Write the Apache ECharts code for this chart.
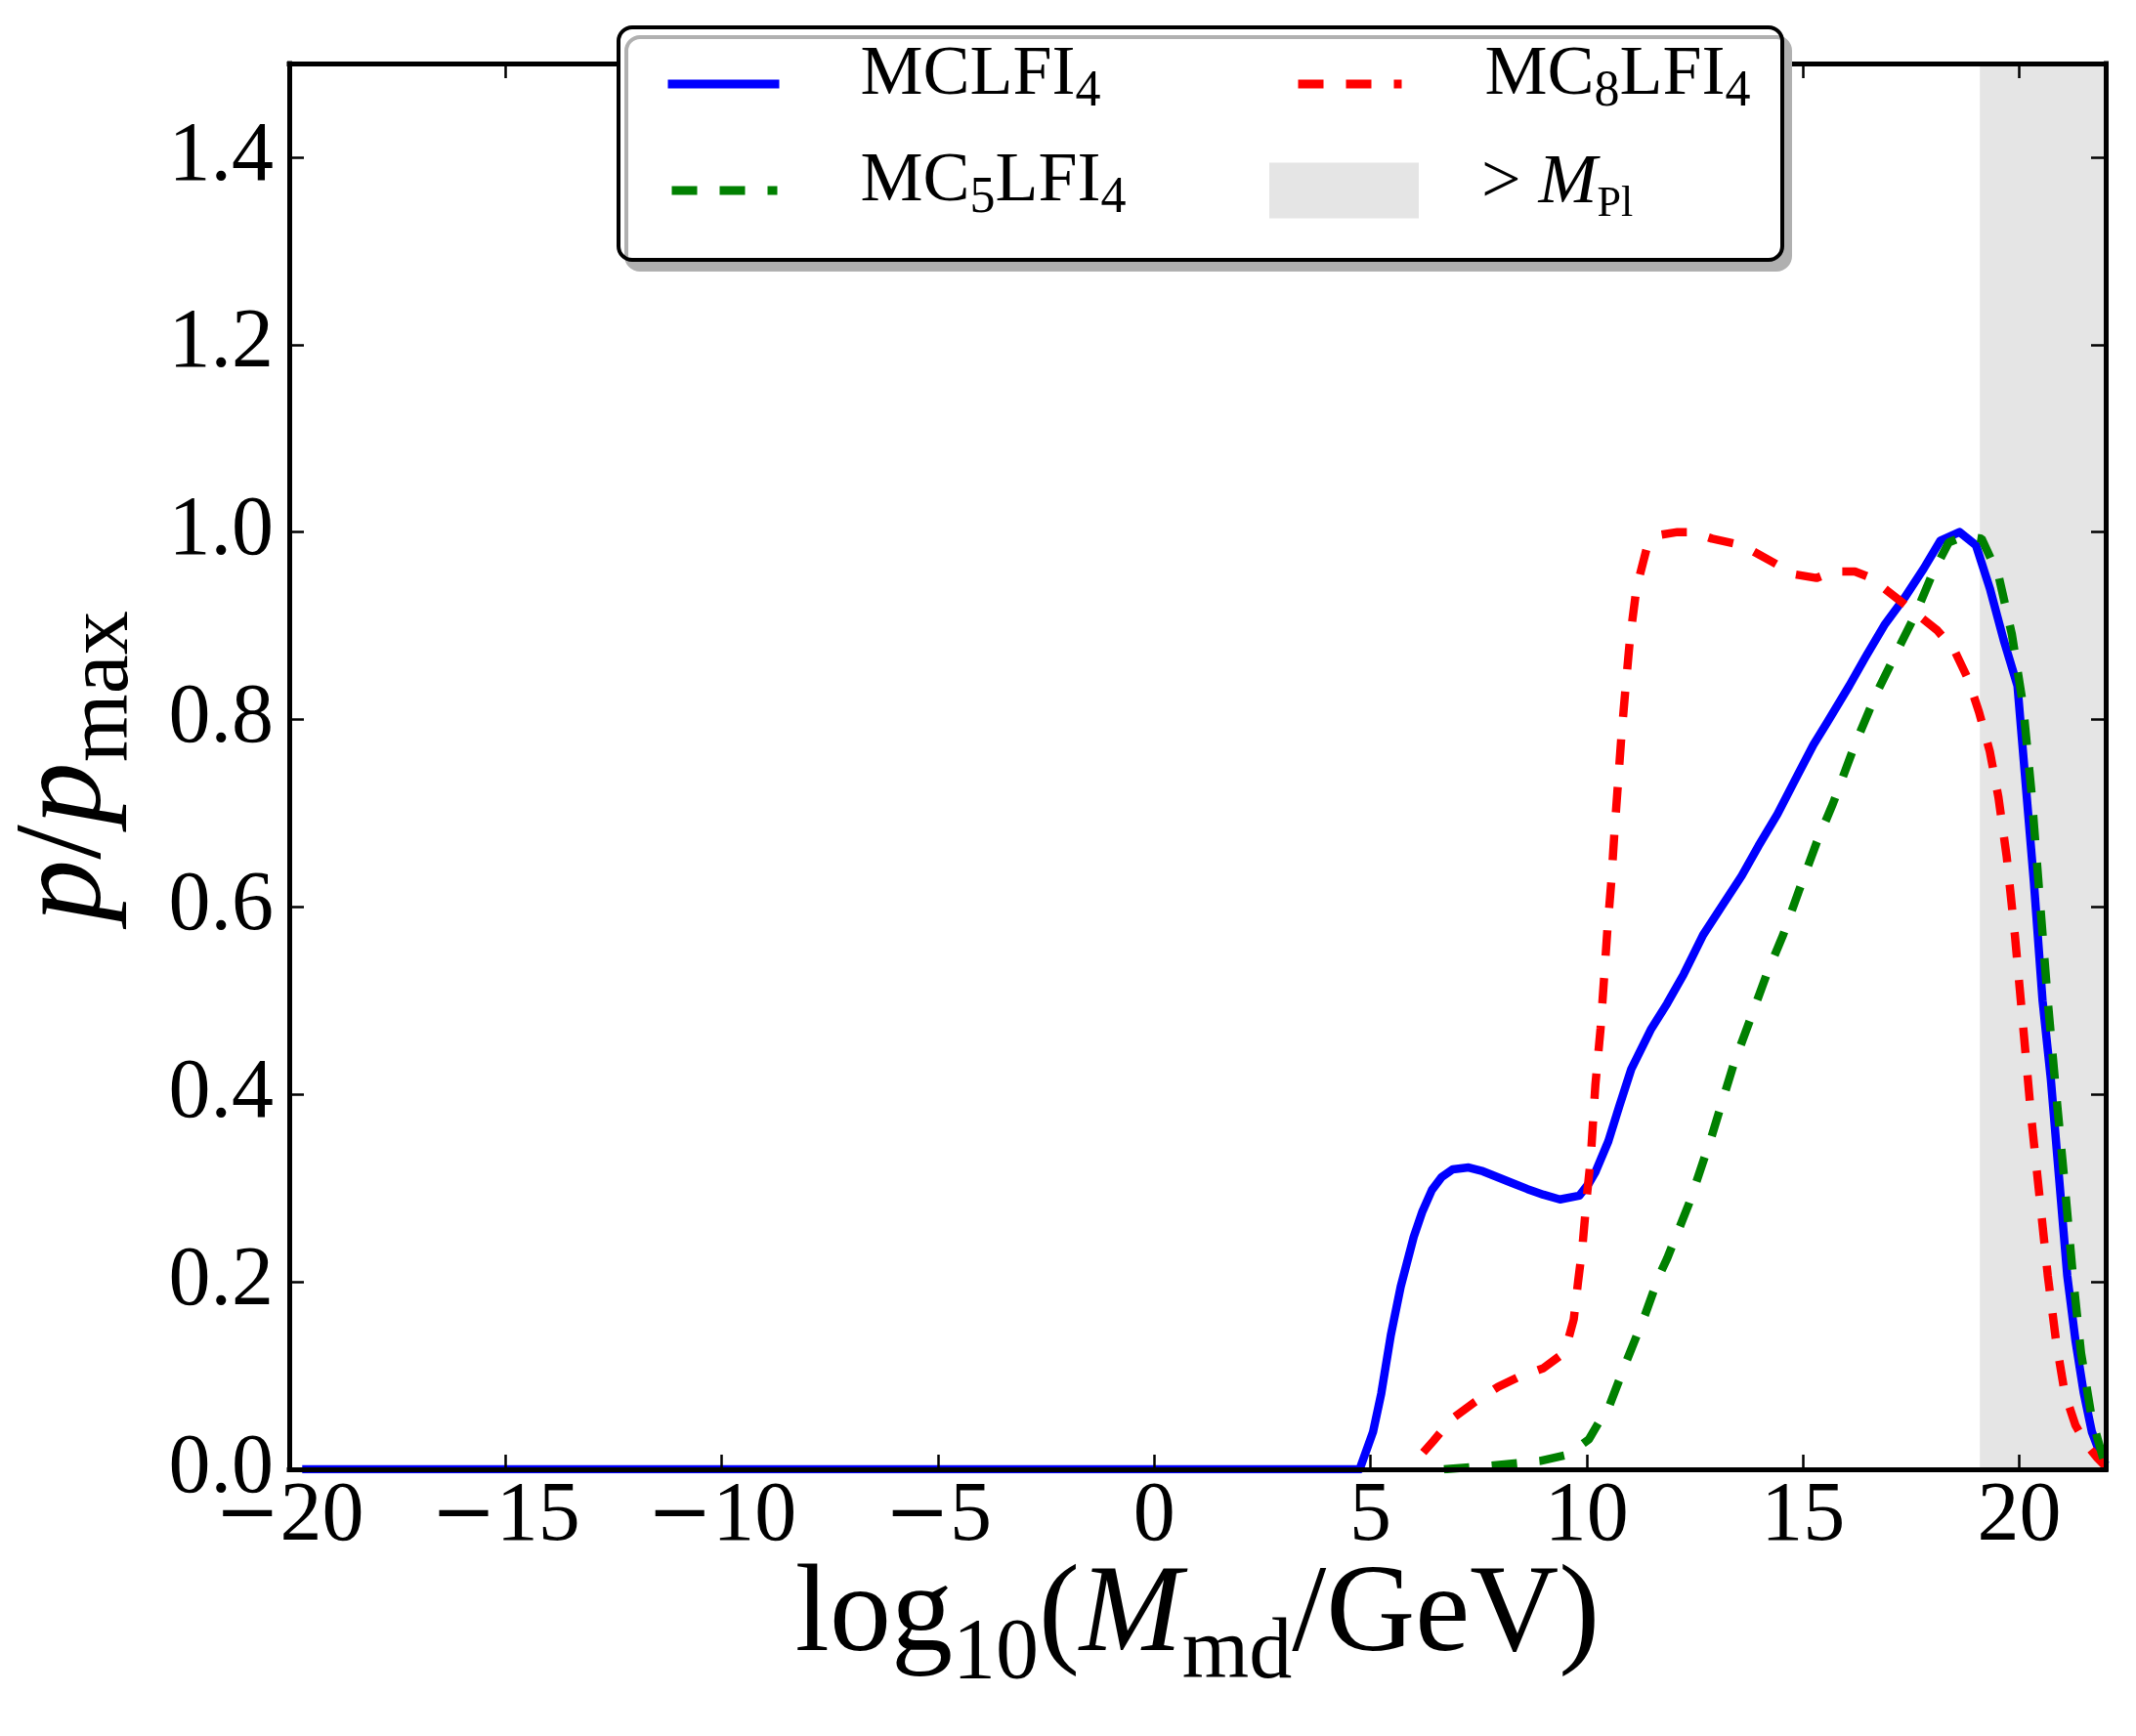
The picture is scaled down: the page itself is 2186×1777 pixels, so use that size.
<!DOCTYPE html>
<html>
<head>
<meta charset="utf-8">
<script src="https://cdn.jsdelivr.net/npm/echarts@6/dist/echarts.min.js"></script>
<style>
html,body{margin:0;padding:0;background:#fff;}
#chart{width:2186px;height:1777px;}
</style>
</head>
<body>
<div id="chart"></div>
<script>
// ---- data (x = log10(M_md/GeV), y = p/p_max) ----
const seriesNames = ['MCLFI4', 'MC8LFI4', 'MC5LFI4', '>MPl'];
const mclfi4 = [[-19.7,0],[4.75,0],[5.06,0.04],[5.25,0.081],[5.47,0.143],[5.7,0.195],[6.0,0.248],[6.2,0.275],[6.42,0.298],[6.65,0.312],[6.9,0.32],[7.27,0.322],[7.6,0.318],[7.87,0.313],[8.25,0.306],[8.63,0.299],[9.0,0.293],[9.38,0.288],[9.83,0.292],[10.05,0.305],[10.2,0.317],[10.5,0.35],[10.75,0.387],[11.03,0.427],[11.48,0.469],[11.86,0.497],[12.24,0.528],[12.69,0.57],[13.14,0.602],[13.58,0.633],[13.97,0.665],[14.41,0.699],[14.8,0.734],[15.24,0.773],[15.56,0.797],[16.07,0.836],[16.45,0.867],[16.9,0.902],[17.35,0.93],[17.79,0.961],[18.18,0.991],[18.62,1.0],[19.0,0.986],[19.32,0.94],[19.64,0.885],[19.96,0.836],[20.15,0.731],[20.34,0.626],[20.54,0.5],[20.73,0.417],[20.92,0.312],[21.11,0.207],[21.3,0.1375],[21.49,0.082],[21.68,0.04],[21.91,0.012],[22.0,0.005]];
const mc8lfi4 = [[6.22,0.018],[6.45,0.03],[6.89,0.054],[7.42,0.072],[7.95,0.088],[8.4,0.098],[9.0,0.108],[9.38,0.121],[9.57,0.138],[9.7,0.16],[9.8,0.2],[9.9,0.237],[10.0,0.29],[10.09,0.33],[10.2,0.41],[10.32,0.47],[10.4,0.523],[10.48,0.577],[10.57,0.628],[10.64,0.679],[10.72,0.73],[10.8,0.781],[10.9,0.835],[11.0,0.886],[11.15,0.94],[11.4,0.985],[11.7,0.997],[12.1,1.0],[12.45,1.0],[12.9,0.993],[13.4,0.988],[13.75,0.982],[14.3,0.968],[14.8,0.955],[15.31,0.951],[15.7,0.958],[16.2,0.958],[16.58,0.951],[16.96,0.937],[17.35,0.923],[17.73,0.909],[18.11,0.895],[18.5,0.874],[18.82,0.843],[19.07,0.808],[19.32,0.766],[19.52,0.717],[19.71,0.654],[19.9,0.57],[20.09,0.473],[20.28,0.375],[20.47,0.291],[20.66,0.207],[20.85,0.1375],[21.05,0.082],[21.3,0.047],[21.56,0.026],[21.81,0.012],[22.0,0.003]];
const mc5lfi4 = [[6.7,0],[7.8,0.004],[8.93,0.009],[9.5,0.015],[9.82,0.024],[10.05,0.032],[10.33,0.054],[10.5,0.065],[10.9,0.113],[11.35,0.165],[11.67,0.206],[11.86,0.225],[12.37,0.284],[12.88,0.354],[13.39,0.431],[13.78,0.48],[14.16,0.528],[14.54,0.57],[14.92,0.619],[15.31,0.668],[15.69,0.71],[16.2,0.773],[16.71,0.829],[17.22,0.877],[17.6,0.912],[17.98,0.954],[18.37,0.989],[18.75,0.996],[19.13,0.993],[19.52,0.954],[19.83,0.891],[20.09,0.815],[20.28,0.724],[20.47,0.612],[20.66,0.5],[20.85,0.403],[21.05,0.305],[21.24,0.207],[21.43,0.124],[21.68,0.054],[21.94,0.012],[22.0,0.005]];
const planckBand = [19.09, 22];
const xRange = [-20, 22];
const yRange = [0, 1.5];

const FONT = 'Liberation Serif';
const chart = echarts.init(document.getElementById('chart'), null, {renderer: 'canvas'});

const subSty = (size, pad) => ({fontFamily: FONT, fontSize: size, color: '#000', padding: [pad, 0, 0, 0]});
const legendRich = {
  s: Object.assign(subSty(52, 34), {lineHeight: 60}),
  ss: Object.assign(subSty(44, 42), {lineHeight: 60}),
  i: {fontFamily: FONT, fontSize: 72, fontStyle: 'italic', color: '#000', lineHeight: 60}
};
const legendLabels = {
  'MCLFI4': 'MCLFI{s|4}',
  'MC8LFI4': 'MC{s|8}LFI{s|4}',
  'MC5LFI4': 'MC{s|5}LFI{s|4}',
  '>MPl': '> {i|M}{ss|Pl}'
};
function mkLegend(name, left, top, w, h, padL, padB, extra) {
  return Object.assign({
    show: true, data: [name], left: left, top: top, padding: 0,
    itemWidth: w, itemHeight: h, selectedMode: false, z: 21,
    formatter: n => legendLabels[n],
    itemStyle: {opacity: 0},
    lineStyle: {width: 9},
    textStyle: {fontFamily: FONT, fontSize: 72, color: '#000', lineHeight: 60,
      padding: [0, 0, padB, padL], rich: legendRich}
  }, extra || {});
}

const axisCommon = {
  type: 'value', z: 10,
  axisLine: {show: true, onZero: false, lineStyle: {color: '#000', width: 5, cap: 'square'}},
  axisTick: {show: true, inside: true, length: 15, lineStyle: {color: '#000', width: 2.5}},
  splitLine: {show: false}
};

const option = {
  animation: false,
  backgroundColor: '#fff',
  grid: {left: 296, top: 65, width: 1859, height: 1439, containLabel: false, outerBoundsMode: 'none'},
  xAxis: [
    Object.assign({}, axisCommon, {
      min: xRange[0], max: xRange[1], interval: 5, position: 'bottom',
      axisLabel: {show: true, fontFamily: FONT, fontSize: 86, color: '#000', margin: 6,
        showMaxLabel: false,
        formatter: v => (v < 0 ? '{m|\u2212}' + Math.abs(v) : String(v)),
        rich: {m: {fontFamily: 'DejaVu Serif', fontSize: 80, color: '#000'}}},
      name: 'log{s|10}({i|M}{s|md}/GeV)', nameLocation: 'middle', nameGap: 84,
      nameMoveOverlap: false,
      nameTextStyle: {fontFamily: FONT, fontSize: 126, color: '#000', lineHeight: 136,
        rich: {
          s: {fontFamily: FONT, fontSize: 88, color: '#000', lineHeight: 136, padding: [76, 0, 0, 0]},
          i: {fontFamily: FONT, fontSize: 126, fontStyle: 'italic', color: '#000', lineHeight: 136}
        }}
    }),
    Object.assign({}, axisCommon, {
      min: xRange[0], max: xRange[1], interval: 5, position: 'top',
      axisLabel: {show: false}
    })
  ],
  yAxis: [
    Object.assign({}, axisCommon, {
      min: yRange[0], max: yRange[1], interval: 0.2, position: 'left',
      axisLabel: {show: true, fontFamily: FONT, fontSize: 86, color: '#000', margin: 16,
        showMaxLabel: false, formatter: v => v.toFixed(1)},
      name: '{i|p}/{i|p}{s|max}', nameLocation: 'middle', nameGap: 158, nameRotate: 90,
      nameTextStyle: {fontFamily: FONT, fontSize: 128, color: '#000', lineHeight: 140,
        rich: {
          s: {fontFamily: FONT, fontSize: 90, color: '#000', lineHeight: 140, padding: [76, 0, 0, 0]},
          i: {fontFamily: FONT, fontSize: 128, fontStyle: 'italic', color: '#000', lineHeight: 140}
        }}
    }),
    Object.assign({}, axisCommon, {
      min: yRange[0], max: yRange[1], interval: 0.2, position: 'right',
      axisLabel: {show: false}
    })
  ],
  legend: [
    mkLegend('MCLFI4', 679, 34, 114, 80, 78, 18),
    mkLegend('MC8LFI4', 1324, 34, 106, 80, 80, 18),
    mkLegend('MC5LFI4', 683, 143, 108, 80, 80, 18),
    mkLegend('>MPl', 1299, 145, 153, 57, 59, 14, {
      itemStyle: {opacity: 1},
      data: [{name: '>MPl', icon: 'rect', itemStyle: {color: '#e5e5e5', borderWidth: 0, opacity: 1}}]
    })
  ],
  graphic: [{
    type: 'rect', z: 20,
    shape: {x: 633, y: 28, width: 1191, height: 238, r: 14},
    style: {fill: '#fff', stroke: '#000', lineWidth: 4,
      shadowColor: '#b0b0b0', shadowOffsetX: 8, shadowOffsetY: 10, shadowBlur: 0}
  }],
  series: [
    {
      name: seriesNames[3], type: 'line', data: [], z: 1, silent: true,
      itemStyle: {color: '#e5e5e5'}, lineStyle: {color: '#e5e5e5'},
      markArea: {silent: true, itemStyle: {color: '#e5e5e5', opacity: 1},
        data: [[{xAxis: planckBand[0]}, {xAxis: planckBand[1]}]]}
    },
    {
      name: seriesNames[0], type: 'line', data: mclfi4, showSymbol: false, symbol: 'none', z: 3,
      itemStyle: {color: '#0000ff'},
      lineStyle: {color: '#0000ff', width: 8.5, join: 'round', cap: 'butt'}
    },
    {
      name: seriesNames[1], type: 'line', data: mc8lfi4, showSymbol: false, symbol: 'none', z: 4,
      itemStyle: {color: '#ff0000'},
      lineStyle: {color: '#ff0000', width: 8.5, type: [26, 23], cap: 'butt'}
    },
    {
      name: seriesNames[2], type: 'line', data: mc5lfi4, showSymbol: false, symbol: 'none', z: 5,
      itemStyle: {color: '#008000'},
      lineStyle: {color: '#008000', width: 8.5, type: [26, 23], cap: 'butt'}
    }
  ]
};
chart.setOption(option);
</script>
</body>
</html>
